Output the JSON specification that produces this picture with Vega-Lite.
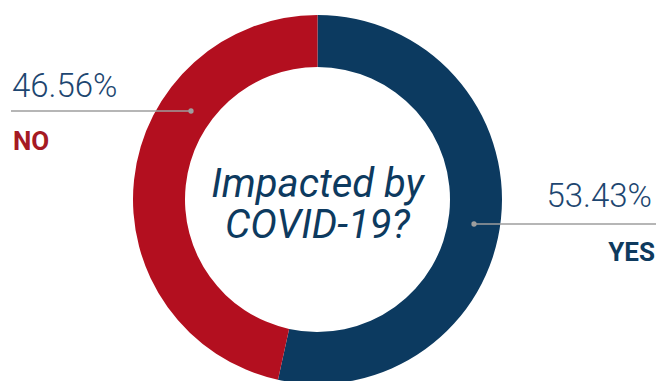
{
  "$schema": "https://vega.github.io/schema/vega-lite/v6.json",
  "width": 635,
  "height": 363,
  "autosize": "none",
  "padding": {"left": 0, "top": 18, "right": 21, "bottom": 0},
  "background": "white",
  "config": {"view": {"stroke": null}, "text": {"font": "Roboto"}},
  "data": {
    "values": [
      {"answer": "YES", "pct": 53.43},
      {"answer": "NO", "pct": 46.56}
    ]
  },
  "transform": [
    {"calculate": "format(datum.pct, '.2f') + '%'", "as": "pct_label"}
  ],
  "layer": [
    {
      "mark": {"type": "arc", "outerRadius": 184.5, "innerRadius": 132.5},
      "encoding": {
        "theta": {"field": "pct", "type": "quantitative", "stack": true},
        "order": {"field": "answer", "sort": "descending"},
        "color": {
          "field": "answer",
          "type": "nominal",
          "scale": {"domain": ["YES", "NO"], "range": ["#0c3a60", "#b30f1f"]},
          "legend": null
        }
      }
    },
    {
      "transform": [{"filter": "datum.answer === 'YES'"}],
      "layer": [
        {
          "mark": {
            "type": "text",
            "text": "Impacted by",
            "fontSize": 40,
            "fontStyle": "italic",
            "align": "center",
            "baseline": "alphabetic",
            "dy": -2.5,
            "color": "#0d3a5f"
          },
          "encoding": {}
        },
        {
          "mark": {
            "type": "text",
            "text": "COVID-19?",
            "fontSize": 40,
            "fontStyle": "italic",
            "align": "center",
            "baseline": "alphabetic",
            "dy": 38.5,
            "color": "#0d3a5f"
          },
          "encoding": {}
        }
      ]
    },
    {
      "transform": [{"filter": "datum.answer === 'NO'"}],
      "layer": [
        {
          "mark": {"type": "rule", "color": "#9e9e9e", "strokeWidth": 1.5},
          "encoding": {"x": {"value": 11}, "x2": {"value": 191}, "y": {"value": 93}}
        },
        {
          "mark": {"type": "point", "filled": true, "color": "#9e9e9e", "size": 28, "opacity": 1},
          "encoding": {"x": {"value": 191}, "y": {"value": 93}}
        },
        {
          "mark": {"type": "text", "align": "left", "baseline": "alphabetic", "fontSize": 33, "fontWeight": 300, "color": "#1d4670"},
          "encoding": {
            "x": {"value": 12},
            "y": {"value": 78.5},
            "text": {"field": "pct_label", "type": "nominal"}
          }
        },
        {
          "mark": {"type": "text", "align": "left", "baseline": "alphabetic", "fontSize": 26, "fontWeight": "bold", "color": "#a51a23"},
          "encoding": {
            "x": {"value": 13},
            "y": {"value": 132},
            "text": {"field": "answer", "type": "nominal"}
          }
        }
      ]
    },
    {
      "transform": [{"filter": "datum.answer === 'YES'"}],
      "layer": [
        {
          "mark": {"type": "rule", "color": "#9e9e9e", "strokeWidth": 1.5},
          "encoding": {"x": {"value": 474}, "x2": {"value": 660}, "y": {"value": 206}}
        },
        {
          "mark": {"type": "point", "filled": true, "color": "#9e9e9e", "size": 28, "opacity": 1},
          "encoding": {"x": {"value": 474}, "y": {"value": 206}}
        },
        {
          "mark": {"type": "text", "align": "right", "baseline": "alphabetic", "fontSize": 33, "fontWeight": 300, "color": "#1d4670"},
          "encoding": {
            "x": {"value": 652},
            "y": {"value": 189},
            "text": {"field": "pct_label", "type": "nominal"}
          }
        },
        {
          "mark": {"type": "text", "align": "right", "baseline": "alphabetic", "fontSize": 26, "fontWeight": "bold", "color": "#0e3a5e"},
          "encoding": {
            "x": {"value": 655},
            "y": {"value": 243},
            "text": {"field": "answer", "type": "nominal"}
          }
        }
      ]
    }
  ]
}
